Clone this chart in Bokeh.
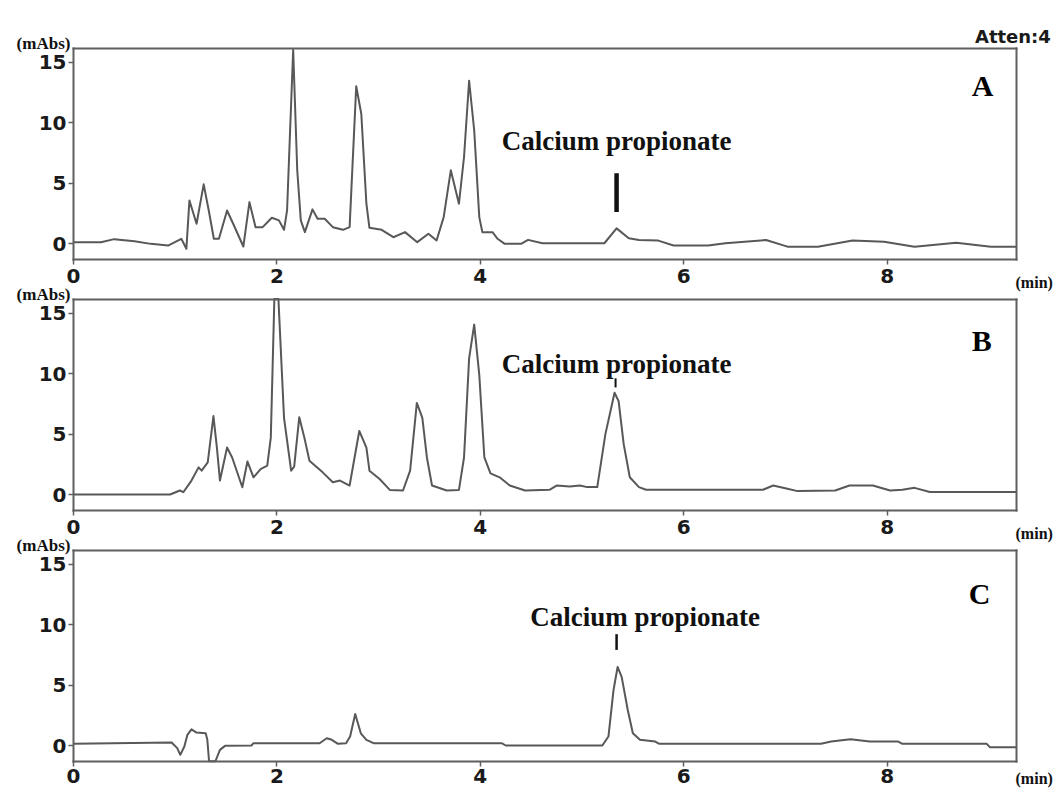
from bokeh.plotting import figure
from bokeh.models import Range1d, FixedTicker, Label, LinearAxis
from bokeh.embed import file_html
from bokeh.resources import INLINE

# ---------------- data ----------------
t_a = [0.00, 0.27, 0.40, 0.60, 0.76, 0.93, 1.06, 1.11, 1.14, 1.21, 1.28, 1.33, 1.38, 1.43,
       1.51, 1.57, 1.67, 1.73, 1.79, 1.86, 1.95, 2.02, 2.07, 2.10, 2.16, 2.20, 2.235, 2.275,
       2.35, 2.40, 2.47, 2.55, 2.65, 2.715, 2.78, 2.83, 2.88, 2.91, 3.03, 3.145, 3.26, 3.38,
       3.49, 3.57, 3.64, 3.71, 3.79, 3.84, 3.89, 3.94, 3.99, 4.02, 4.12, 4.17, 4.24, 4.40,
       4.47, 4.61, 5.22, 5.34, 5.46, 5.56, 5.75, 5.90, 6.24, 6.41, 6.81, 7.02, 7.32, 7.66,
       7.97, 8.27, 8.68, 9.02, 9.27]
y_a = [0.10, 0.11, 0.36, 0.19, -0.03, -0.17, 0.39, -0.44, 3.56, 1.63, 4.89, 2.73, 0.39, 0.39,
       2.73, 1.63, -0.25, 3.42, 1.35, 1.35, 2.13, 1.91, 1.13, 2.73, 16.0, 6.05, 1.91, 0.94,
       2.82, 2.04, 2.04, 1.35, 1.13, 1.35, 13.0, 10.7, 3.29, 1.30, 1.13, 0.52, 0.94, 0.11,
       0.80, 0.25, 2.18, 6.05, 3.29, 7.15, 13.45, 9.36, 2.18, 0.94, 0.94, 0.39, -0.03, -0.03,
       0.30, 0.02, 0.02, 1.25, 0.43, 0.29, 0.24, -0.17, -0.17, 0.02, 0.29, -0.26, -0.26, 0.24,
       0.15, -0.26, 0.07, -0.26, -0.26]

t_b = [0.00, 0.95, 1.045, 1.08, 1.16, 1.23, 1.26, 1.32, 1.376, 1.41, 1.44, 1.51, 1.56, 1.66,
       1.71, 1.77, 1.84, 1.905, 1.94, 1.975, 2.015, 2.07, 2.14, 2.17, 2.22, 2.27, 2.32, 2.45,
       2.55, 2.62, 2.715, 2.81, 2.88, 2.91, 3.01, 3.11, 3.24, 3.31, 3.376, 3.43, 3.475, 3.525,
       3.67, 3.79, 3.84, 3.89, 3.94, 3.99, 4.04, 4.10, 4.19, 4.29, 4.44, 4.68, 4.75, 4.88,
       4.98, 5.05, 5.15, 5.23, 5.32, 5.36, 5.41, 5.47, 5.56, 5.63, 6.78, 6.88, 7.02, 7.12,
       7.49, 7.63, 7.86, 8.03, 8.15, 8.27, 8.42, 9.27]
y_b = [0.00, 0.00, 0.33, 0.19, 1.15, 2.24, 1.97, 2.65, 6.48, 3.88, 1.15, 3.88, 3.06, 0.60,
       2.73, 1.42, 2.10, 2.38, 4.70, 16.15, 16.15, 6.34, 1.97, 2.30, 6.39, 4.70, 2.79, 1.83,
       1.01, 1.15, 0.74, 5.25, 3.88, 1.97, 1.28, 0.38, 0.33, 1.97, 7.57, 6.34, 3.06, 0.74,
       0.33, 0.38, 3.06, 11.25, 14.04, 9.89, 3.06, 1.75, 1.42, 0.74, 0.33, 0.39, 0.74, 0.66,
       0.74, 0.61, 0.61, 4.99, 8.41, 7.72, 4.16, 1.43, 0.61, 0.39, 0.39, 0.74, 0.47, 0.28,
       0.33, 0.74, 0.74, 0.33, 0.39, 0.55, 0.20, 0.20]

t_c = [0.00, 0.965, 1.02, 1.05, 1.09, 1.12, 1.16, 1.21, 1.30, 1.316, 1.333, 1.396, 1.44, 1.49,
       1.75, 1.77, 2.42, 2.49, 2.54, 2.60, 2.68, 2.72, 2.77, 2.825, 2.88, 2.95, 4.21, 4.25,
       5.20, 5.26, 5.31, 5.35, 5.39, 5.45, 5.50, 5.57, 5.72, 5.76, 7.35, 7.45, 7.64, 7.83,
       8.11, 8.15, 8.98, 9.01, 9.27]
y_c = [0.14, 0.25, -0.22, -0.77, -0.08, 0.88, 1.34, 1.07, 1.01, 0.47, -1.3, -1.3, -0.36, -0.03,
       0.00, 0.19, 0.19, 0.60, 0.47, 0.14, 0.19, 0.74, 2.60, 1.01, 0.47, 0.19, 0.19, 0.00,
       0.00, 0.74, 4.58, 6.49, 5.67, 2.93, 1.01, 0.47, 0.33, 0.14, 0.14, 0.33, 0.52, 0.33,
       0.33, 0.14, 0.14, -0.14, -0.14]

x_ticks = [0, 2, 4, 6, 8]
y_ticks = [0, 5, 10, 15]
panel_names = ["A", "B", "C"]
compound_name = "Calcium propionate"
x_unit = "(min)"
y_unit = "(mAbs)"
atten_text = "Atten:4"

# annotation anchors (data units of each panel)
name_x = [5.34, 5.34, 5.62]
name_y = [8.45, 10.75, 10.65]
mark_x = [5.34, 5.33, 5.34]
mark_y0 = [2.6, 8.85, 7.9]
mark_y1 = [5.8, 9.6, 9.2]
mark_w = [4.5, 2, 2.5]
letter_x = [8.94, 8.93, 8.91]
letter_y = [13.06, 12.7, 12.56]
unit_x_y = [-3.2, -3.2, -2.75]

# ---------------- layout / styling ----------------
W, H = 1054, 788
X0_PX = 73            # pixel of t = 0
PX_PER_MIN = 101.7
PX_PER_UNIT = 12.1
ZERO_PX = [243, 494, 745]   # pixel row of 0 mAbs in each panel
BOX_X = (0.0, 9.27)
BOX_Y = (-1.3, 16.15)
X_LABEL_STANDOFF = [5, 5, 3]

FRAME = "#5f5f5f"
TRACE = "#585858"
SERIF = "Liberation Serif"
SANS = "DejaVu Sans"

x_range = Range1d(-X0_PX / PX_PER_MIN, (W - X0_PX) / PX_PER_MIN)
y_ranges = {n: Range1d((z - H) / PX_PER_UNIT, z / PX_PER_UNIT)
            for n, z in zip(panel_names, ZERO_PX)}

p = figure(width=W, height=H, output_backend="svg", toolbar_location=None, title=None,
           x_range=x_range, y_range=Range1d((ZERO_PX[0] - H) / PX_PER_UNIT,
                                            ZERO_PX[0] / PX_PER_UNIT),
           x_axis_location=None, y_axis_location=None, min_border=0,
           background_fill_color="white", border_fill_color="white")
p.extra_y_ranges = y_ranges
p.outline_line_color = None
p.grid.visible = False


def style_axis(ax):
    ax.axis_line_color = FRAME
    ax.axis_line_width = 2
    ax.axis_line_cap = "square"
    ax.major_tick_line_color = FRAME
    ax.major_tick_line_width = 1.5
    ax.major_tick_in = 0
    ax.major_tick_out = 5
    ax.minor_tick_line_color = None
    ax.major_label_text_font = SANS
    ax.major_label_text_font_style = "bold"
    ax.major_label_text_font_size = "20px"
    ax.major_label_text_color = "#1a1a1a"


for i, n in enumerate(panel_names):
    left = LinearAxis(y_range_name=n, fixed_location=BOX_X[0], bounds=BOX_Y,
                      ticker=FixedTicker(ticks=y_ticks), major_label_standoff=2)
    below = LinearAxis(y_range_name=n, fixed_location=BOX_Y[0], bounds=BOX_X,
                       ticker=FixedTicker(ticks=x_ticks),
                       major_label_standoff=X_LABEL_STANDOFF[i])
    above = LinearAxis(y_range_name=n, fixed_location=BOX_Y[1], bounds=BOX_X,
                       ticker=FixedTicker(ticks=[]))
    right = LinearAxis(y_range_name=n, fixed_location=BOX_X[1], bounds=BOX_Y,
                       ticker=FixedTicker(ticks=[]))
    for ax in (left, below, above, right):
        style_axis(ax)
    p.add_layout(left, "left")
    p.add_layout(below, "below")
    p.add_layout(above, "above")
    p.add_layout(right, "right")

traces = [(t_a, y_a), (t_b, y_b), (t_c, y_c)]
for i, n in enumerate(panel_names):
    t, y = traces[i]
    p.line(t, y, y_range_name=n, line_color=TRACE, line_width=2, line_join="round")
    p.segment(x0=[mark_x[i]], y0=[mark_y0[i]], x1=[mark_x[i]], y1=[mark_y1[i]],
              y_range_name=n, line_color="#111111", line_width=mark_w[i])
    p.add_layout(Label(x=name_x[i], y=name_y[i], y_range_name=n, text=compound_name,
                       text_align="center", text_baseline="alphabetic", text_font=SERIF,
                       text_font_style="bold", text_font_size="27px", text_color="#111111"))
    p.add_layout(Label(x=letter_x[i], y=letter_y[i], y_range_name=n, text=n,
                       text_align="center", text_baseline="alphabetic", text_font=SERIF,
                       text_font_style="bold", text_font_size="30px", text_color="#000000"))
    p.add_layout(Label(x=-0.03, y=16.55, y_range_name=n, text=y_unit, text_align="right",
                       text_baseline="alphabetic", text_font=SERIF, text_font_style="bold",
                       text_font_size="17px", text_color="#111111"))
    p.add_layout(Label(x=9.63, y=unit_x_y[i], y_range_name=n, text=x_unit,
                       text_align="right", text_baseline="alphabetic", text_font=SERIF,
                       text_font_style="bold", text_font_size="16px", text_color="#111111"))

p.add_layout(Label(x=9.61, y=17.1, y_range_name="A", text=atten_text, text_align="right",
                   text_baseline="alphabetic", text_font=SANS, text_font_style="bold",
                   text_font_size="18px", text_color="#1a1a1a"))

open("out.html", "w").write(file_html(p, INLINE))
